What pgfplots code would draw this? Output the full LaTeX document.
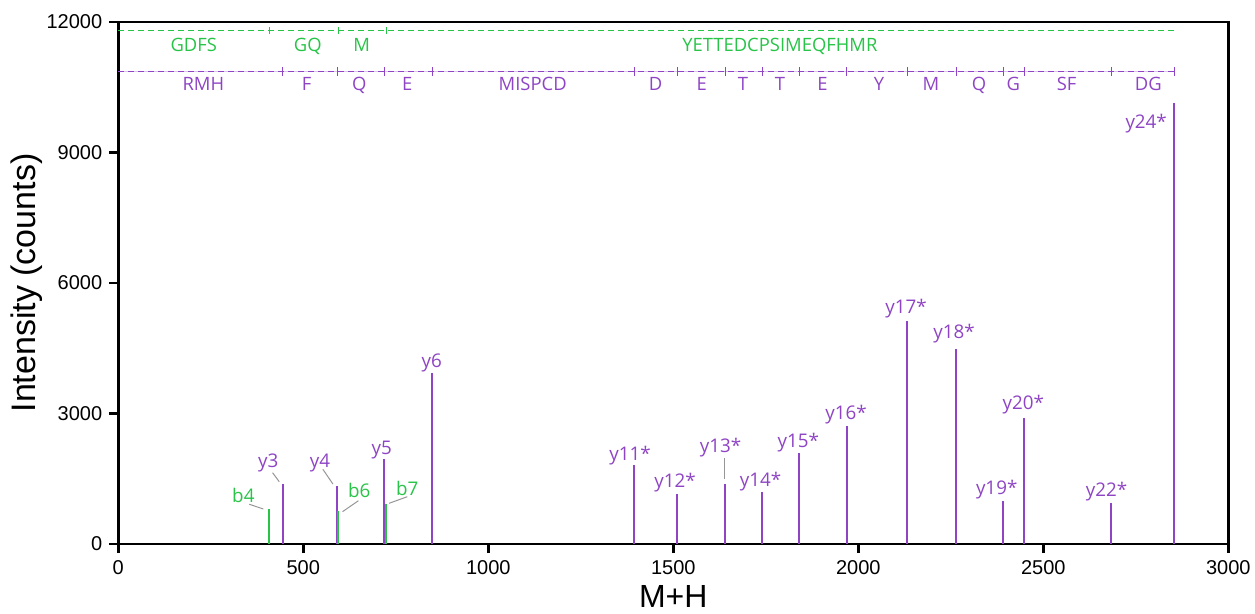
\documentclass[border=0pt]{standalone}
\usepackage{pgfplots}
\pgfplotsset{compat=1.18}
\usepackage{fontspec}
\setmainfont{Liberation Sans}
\newfontfamily\anno{Open Sans}
\definecolor{pep}{RGB}{142,68,196}
\definecolor{grn}{RGB}{40,196,72}
\definecolor{lead}{RGB}{150,150,150}
\newcommand{\pk}{\anno\fontsize{9.4}{11}\selectfont}
\newcommand{\ld}{\anno\fontsize{9.2}{11}\selectfont}
\begin{document}
\begin{tikzpicture}
\begin{axis}[name=ax, scale only axis, width=555pt, height=261pt,
 xmin=0, xmax=3000, ymin=0, ymax=12000,
 axis line style={line width=1.4pt},
 xtick={0,500,...,3000}, ytick={0,3000,6000,9000,12000},
 scaled ticks=false,
 tick align=outside, xtick pos=left, ytick pos=left,
 major tick length=4.5pt,
 every tick/.style={black, line width=1.3pt},
 tick label style={font=\fontsize{10}{12}\selectfont},
 /pgf/number format/assume math mode=true,
 /pgf/number format/1000 sep={},
 xlabel={M+H}, ylabel={Intensity (counts)},
 every axis x label/.style={at={(axis description cs:0.5,-0.1)}, anchor=center, font=\fontsize{16}{19}\selectfont},
 every axis y label/.style={at={(axis description cs:-0.0822,0.5)}, anchor=center, rotate=90, font=\fontsize{17}{20}\selectfont},
 clip=false,
]
% y ions
\addplot[ycomb, pep, line width=1pt, mark=none] coordinates {
 (444,1372) (591,1333) (719,1947) (848,3938)
 (1395,1809) (1510,1142) (1640,1372) (1740,1188) (1841,2085) (1969,2720)
 (2132,5126) (2265,4490) (2392,996) (2449,2904) (2683,935) (2854,10131)};
% b ions
\addplot[ycomb, grn, line width=1pt, mark=none] coordinates {
 (408,805) (594,759) (724,920)};

% ladders
\addplot[grn, line width=0.5pt, dash pattern=on 3pt off 2pt, mark=none] coordinates {(0,11800) (2854,11800)};
\addplot[grn, only marks, mark=|, mark size=1.75pt, mark options={line width=0.5pt}] coordinates {(408,11800) (594,11800) (724,11800)};
\addplot[pep!30, line width=0.5pt, mark=none] coordinates {(0,10860) (2854,10860)};
\addplot[pep, line width=0.5pt, dash pattern=on 3pt off 2pt, mark=none] coordinates {(0,10860) (2854,10860)};
\addplot[pep, only marks, mark=|, mark size=2.25pt, mark options={line width=0.45pt}] coordinates {
 (444,10860) (591,10860) (719,10860) (848,10860) (1395,10860) (1510,10860) (1640,10860) (1740,10860)
 (1841,10860) (1969,10860) (2132,10860) (2265,10860) (2392,10860) (2449,10860) (2683,10860) (2854,10860)};

% ladder labels
\begin{scope}[every node/.style={anchor=base, text=grn, font=\ld, inner sep=0pt}]
\node at (axis cs:204,11317) {GDFS};
\node at (axis cs:512,11317) {GQ};
\node at (axis cs:658,11317) {M};
\node at (axis cs:1788,11317) {YETTEDCPSIMEQFHMR};
\end{scope}
\begin{scope}[every node/.style={anchor=base, text=pep, font=\ld, inner sep=0pt}]
\node at (axis cs:230,10414) {RMH};
\node at (axis cs:509,10414) {F};
\node at (axis cs:651,10414) {Q};
\node at (axis cs:781,10414) {E};
\node at (axis cs:1120,10414) {MISPCD};
\node at (axis cs:1452,10414) {D};
\node at (axis cs:1577,10414) {E};
\node at (axis cs:1688,10414) {T};
\node at (axis cs:1788,10414) {T};
\node at (axis cs:1903,10414) {E};
\node at (axis cs:2056,10414) {Y};
\node at (axis cs:2196,10414) {M};
\node at (axis cs:2326,10414) {Q};
\node at (axis cs:2419,10414) {G};
\node at (axis cs:2563,10414) {SF};
\node at (axis cs:2784,10414) {DG};
\end{scope}

% peak labels
\begin{scope}[every node/.style={anchor=base, text=pep, font=\pk, inner sep=0pt}]
\node at (axis cs:405,1755) {y3};
\node at (axis cs:545,1755) {y4};
\node at (axis cs:712,2061) {y5};
\node at (axis cs:847,4061) {y6};
\node at (axis cs:1383,1915) {y11*};
\node at (axis cs:1505,1303) {y12*};
\node at (axis cs:1628,2108) {y13*};
\node at (axis cs:1736,1318) {y14*};
\node at (axis cs:1838,2222) {y15*};
\node at (axis cs:1967,2851) {y16*};
\node at (axis cs:2129,5303) {y17*};
\node at (axis cs:2259,4713) {y18*};
\node at (axis cs:2374,1149) {y19*};
\node at (axis cs:2446,3103) {y20*};
\node at (axis cs:2671,1088) {y22*};
\node at (axis cs:2778,9556) {y24*};
\end{scope}
\begin{scope}[every node/.style={anchor=base, text=grn, font=\pk, inner sep=0pt}]
\node at (axis cs:338,965) {b4};
\node at (axis cs:651,1065) {b6};
\node at (axis cs:781,1111) {b7};
\end{scope}
% leaders
\begin{scope}[lead, line width=0.5pt]
\draw (axis cs:417,1639) -- (axis cs:435,1432);
\draw (axis cs:354,913) -- (axis cs:392,805);
\draw (axis cs:553,1717) -- (axis cs:580,1379);
\draw (axis cs:649,995) -- (axis cs:606,743);
\draw (axis cs:781,1087) -- (axis cs:732,936);
\draw (axis cs:1638,1984) -- (axis cs:1638,1487);
\end{scope}
\end{axis}
\pgfresetboundingbox
\path ([xshift=-59.15pt,yshift=-35pt]ax.south west) rectangle ([xshift=13.35pt,yshift=11pt]ax.north east);
\end{tikzpicture}
\end{document}
